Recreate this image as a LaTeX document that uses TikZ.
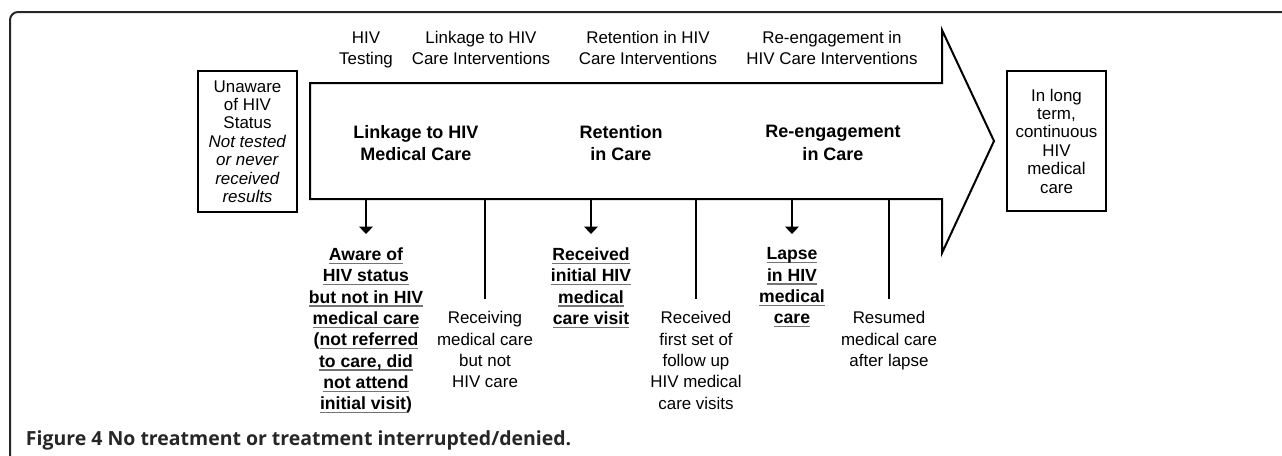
\documentclass[tikz,border=0pt]{standalone}
\usepackage{fontspec}
\setmainfont{Liberation Sans}
\newfontfamily\capfont{Open Sans}
\usetikzlibrary{arrows.meta}
\newcommand\ulin[1]{\setbox0=\hbox{#1}\rlap{\textcolor{black!55}{\rule[-2.6pt]{\wd0}{1pt}}}\box0}
\begin{document}
\begin{tikzpicture}[x=0.75pt,y=-0.75pt,
  line width=1.5pt, line join=miter,
  band/.style={font=\fontsize{12.7}{15.75}\selectfont, align=center, inner sep=0pt, anchor=north},
  stage/.style={font=\bfseries\fontsize{13.5}{17}\selectfont, align=center, inner sep=0pt, anchor=north},
  boxnode/.style={draw, font=\fontsize{12.7}{13.8}\selectfont, align=center, inner sep=0pt, minimum width=98.5*0.75pt, minimum height=140.5*0.75pt},
  outb/.style={font=\bfseries\fontsize{13.2}{16}\selectfont, align=center, inner sep=0pt, anchor=north},
  outr/.style={font=\fontsize{12.7}{16}\selectfont, align=center, inner sep=0pt, anchor=north},
  arr/.style={-{Triangle[width=10pt,length=5.5pt]}, shorten >=9.5pt},
  stem/.style={shorten >=8.8pt},
  frame/.style={draw=black!85, line width=1.5pt, rounded corners=6pt}
]
\useasboundingbox (0,0) rectangle (1282,455);
% frame
\coordinate (fb) at (10,456);
\coordinate (fc) at (10,12);
\coordinate (fr) at (1283,12);
\draw[frame] (fb) -- (fc) -- (fr);
% big arrow
\coordinate (aTL) at (310,83);
\coordinate (aTR) at (942,83);
\coordinate (aHT) at (942,30);
\coordinate (aTip) at (994,141);
\coordinate (aHB) at (942,253);
\coordinate (aBR) at (942,199);
\coordinate (aBL) at (310,199);
\draw (aTL) -- (aTR) -- (aHT) -- (aTip) -- (aHB) -- (aBR) -- (aBL) -- cycle;
% side boxes
\node[boxnode] (unaware) at (247.5,141.5) {Unaware\\of HIV\\Status\\\textit{Not tested}\\\textit{or never}\\\textit{received}\\\textit{results}};
\node[boxnode] (longterm) at (1056.5,141) {In long\\term,\\continuous\\HIV\\medical\\care};
% intervention band
\node[band] (tI) at (366,30.5) {HIV\\Testing};
\node[band] (lI) at (481,30.5) {Linkage to HIV\\Care Interventions};
\node[band] (rI) at (648,30.5) {Retention in HIV\\Care Interventions};
\node[band] (eI) at (832,30.5) {Re-engagement in\\HIV Care Interventions};
% stages in the shaft
\node[stage] (lS) at (416,124) {Linkage to HIV\\Medical Care};
\node[stage] (rS) at (621,124) {Retention\\in Care};
\node[stage] (eS) at (833,124) {Re-engagement\\in Care};
% shaft bottom points
\coordinate (s1) at (366,199);
\coordinate (s2) at (485,199);
\coordinate (s3) at (591,199);
\coordinate (s4) at (696,199);
\coordinate (s5) at (792,199);
\coordinate (s6) at (889,199);
% outcomes
\node[outb] (aware) at (366,246.7) {\ulin{Aware of}\\\ulin{HIV status}\\\ulin{but not in HIV}\\\ulin{medical care}\\(\ulin{not referred}\\\ulin{to care, did}\\\ulin{not attend}\\\ulin{initial visit})};
\node[outr] (recv) at (485,310.7) {Receiving\\medical care\\but not\\HIV care};
\node[outb] (init) at (591,246.7) {\ulin{Received}\\\ulin{initial HIV}\\\ulin{medical}\\\ulin{care visit}};
\node[outr] (follow) at (696,310.7) {Received\\first set of\\follow up\\HIV medical\\care visits};
\node[outb] (lapse) at (792,246.7) {\ulin{Lapse}\\\ulin{in HIV}\\\ulin{medical}\\\ulin{care}};
\node[outr] (resumed) at (889,310.7) {Resumed\\medical care\\after lapse};
\draw[arr] (s1) -- (aware.north);
\draw[stem] (s2) -- (recv.north);
\draw[arr] (s3) -- (init.north);
\draw[stem] (s4) -- (follow.north);
\draw[arr] (s5) -- (lapse.north);
\draw[stem] (s6) -- (resumed.north);
% caption
\node[anchor=base west, inner sep=0pt, font=\capfont\bfseries\fontsize{14.6}{16}\selectfont, text=black!85] (cap) at (25,445) {Figure 4 No treatment or treatment interrupted/denied.};
\end{tikzpicture}
\end{document}
